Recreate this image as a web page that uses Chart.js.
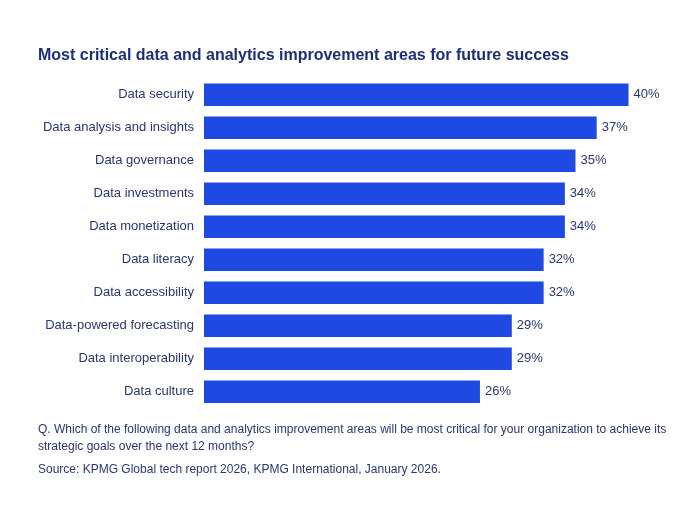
<!DOCTYPE html>
<html>
<head>
<meta charset="utf-8">
<script src="https://cdn.jsdelivr.net/npm/chart.js@4"></script>
<style>
  html, body { margin: 0; padding: 0; background: #fff; }
  body { width: 692px; height: 507px; position: relative; overflow: hidden; font-family: "Liberation Sans", Arial, sans-serif; }
  #wrap { position: absolute; left: 0; top: 0; width: 692px; height: 426px; }
  .note { position: absolute; left: 38px; width: 640px; color: #2a3577; font-size: 12px; line-height: 17px; }
</style>
</head>
<body>
<div id="wrap"><canvas id="myChart"></canvas></div>
<div class="note" style="top:421px">Q. Which of the following data and analytics improvement areas will be most critical for your organization to achieve its strategic goals over the next 12 months?</div>
<div class="note" style="top:461px">Source: KPMG Global tech report 2026, KPMG International, January 2026.</div>
<script>
const areas = [
    'Data security',
    'Data analysis and insights',
    'Data governance',
    'Data investments',
    'Data monetization',
    'Data literacy',
    'Data accessibility',
    'Data-powered forecasting',
    'Data interoperability',
    'Data culture'
]
const shares = [40, 37, 35, 34, 34, 32, 32, 29, 29, 26]

const textColor = '#2a3577'
const barColor = '#1E49E2'

// percent labels at the end of each bar
const valueLabels = {
    id: 'valueLabels',
    afterDatasetsDraw(chart) {
        const ctx = chart.ctx
        const meta = chart.getDatasetMeta(0)
        ctx.save()
        ctx.font = '13px "Liberation Sans", Arial, sans-serif'
        ctx.fillStyle = textColor
        ctx.textAlign = 'left'
        ctx.textBaseline = 'middle'
        meta.data.forEach((bar, i) => {
            ctx.fillText(shares[i] + '%', bar.x + 5, bar.y)
        })
        ctx.restore()
    }
}

const ctx = document.getElementById('myChart')

const chart = new Chart(ctx, {
    type: 'bar',
    data: {
        labels: areas,
        datasets: [{
            data: shares,
            backgroundColor: barColor,
            borderWidth: 0,
            barPercentage: 0.684,
            categoryPercentage: 1
        }]
    },
    options: {
        indexAxis: 'y',
        responsive: true,
        maintainAspectRatio: false,
        animation: false,
        layout: {
            padding: { left: 38, right: 21, top: 0, bottom: 7 }
        },
        plugins: {
            legend: { display: false },
            tooltip: { enabled: false },
            title: {
                display: true,
                text: 'Most critical data and analytics improvement areas for future success',
                align: 'start',
                color: '#1b2f7a',
                font: { family: '"Liberation Sans", Arial, sans-serif', size: 16, weight: 'bold' },
                padding: { top: 46, bottom: 13 }
            }
        },
        scales: {
            x: {
                display: false,
                min: 0,
                max: 44
            },
            y: {
                grid: { display: false, drawTicks: false },
                border: { display: false },
                ticks: {
                    color: textColor,
                    padding: 10,
                    font: { family: '"Liberation Sans", Arial, sans-serif', size: 13 }
                },
                afterFit(scale) {
                    scale.width = 166
                }
            }
        }
    },
    plugins: [valueLabels]
});
</script>
</body>
</html>
